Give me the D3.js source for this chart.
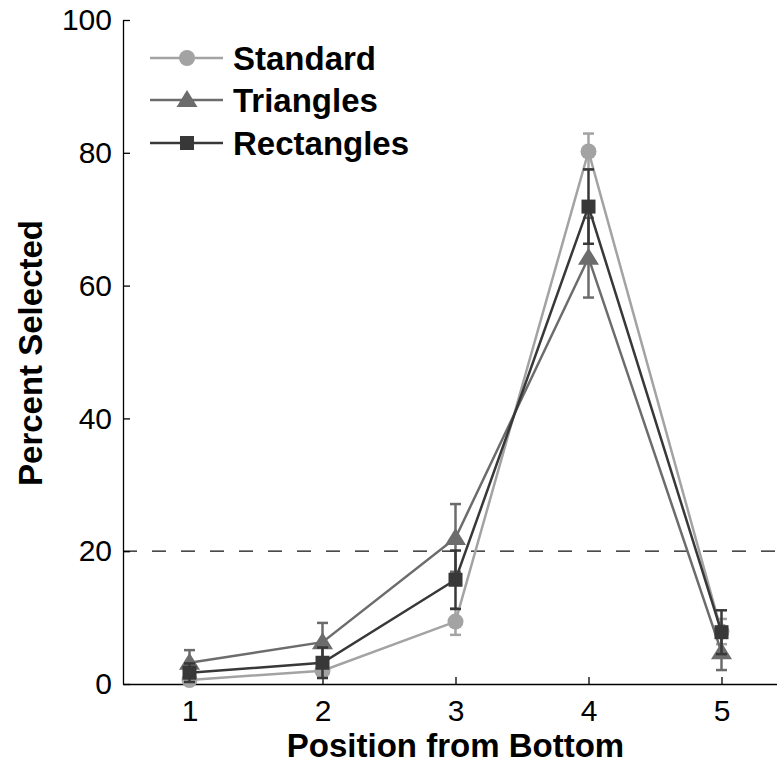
<!DOCTYPE html>
<html>
<head>
<meta charset="utf-8">
<script src="https://cdn.jsdelivr.net/npm/d3@7"></script>
<style>
  body { margin: 0; background: #fff; }
  svg { display: block; font-family: "Liberation Sans", Arial, sans-serif; }
</style>
</head>
<body>
<div id="chart"></div>
<script>
// positions 1..5 from the bottom
var positions = [1, 2, 3, 4, 5];
var seriesNames = ["Standard", "Triangles", "Rectangles"];
var standardVals = [0.6, 2.0, 9.4, 80.2, 7.9];
var standardErr = [0.5, 0.8, 2.0, 2.7, 1.9];
var triangleVals = [3.2, 6.3, 22.0, 64.2, 4.8];
var triangleErr = [1.9, 2.9, 5.1, 6.0, 2.7];
var rectangleVals = [1.7, 3.2, 15.7, 71.9, 7.8];
var rectangleErr = [1.4, 2.3, 4.4, 5.6, 3.3];
var yTicks = [0, 20, 40, 60, 80, 100];
var chanceLevel = 20;

var width = 777, height = 768;
var margin = {top: 20, left: 123, bottom: 84};

var colors = ["#a3a3a3", "#6c6c6c", "#383838"];
var shapes = ["circle", "triangle", "square"];

var svg = d3.select("#chart").append("svg")
  .attr("width", width)
  .attr("height", height);

var x = d3.scaleLinear().domain([0.5, 5.5]).range([margin.left, margin.left + 665]);
var y = d3.scaleLinear().domain([0, 100]).range([height - margin.bottom, margin.top]);

// chance line
svg.append("line")
  .attr("x1", x(0.5)).attr("x2", width)
  .attr("y1", y(chanceLevel)).attr("y2", y(chanceLevel))
  .style("stroke", "#111").style("stroke-width", 1.3)
  .style("stroke-dasharray", "14,15");

// axes
var xAxis = svg.append("g")
  .attr("transform", "translate(0," + y(0) + ")")
  .call(d3.axisBottom(x).tickValues(positions).tickFormat(d3.format("d")).tickSizeInner(-7).tickSizeOuter(0).tickPadding(16));

var yAxis = svg.append("g")
  .attr("transform", "translate(" + x(0.5) + ",0)")
  .call(d3.axisLeft(y).tickValues(yTicks).tickSizeInner(-7).tickSizeOuter(0).tickPadding(11));

[xAxis, yAxis].forEach(function (g) {
  g.select(".domain").style("stroke", "#000").style("stroke-width", 1.3);
  g.selectAll(".tick line").style("stroke", "#000").style("stroke-width", 1.3);
  g.selectAll(".tick text").style("font-size", "30px").style("fill", "#000")
    .style("font-family", "'Liberation Sans', Arial, sans-serif");
});

svg.append("text")
  .attr("x", x(3)).attr("y", 757)
  .attr("text-anchor", "middle")
  .style("font-size", "33px").style("font-weight", "bold")
  .text("Position from Bottom");

svg.append("text")
  .attr("transform", "translate(42," + 353 + ") rotate(-90)")
  .attr("text-anchor", "middle")
  .style("font-size", "33px").style("font-weight", "bold")
  .text("Percent Selected");

function drawMarker(g, shape, color) {
  if (shape === "circle") {
    g.append("circle").attr("r", 8).style("fill", color);
  } else if (shape === "triangle") {
    g.append("path").attr("d", "M0,-10L10.5,7L-10.5,7Z").style("fill", color);
  } else {
    g.append("rect").attr("x", -7).attr("y", -7).attr("width", 14).attr("height", 14).style("fill", color);
  }
}

var allVals = [standardVals, triangleVals, rectangleVals];
var allErr = [standardErr, triangleErr, rectangleErr];

var line = d3.line()
  .x(function (d) { return x(d.pos); })
  .y(function (d) { return y(d.value); });

allVals.forEach(function (vals, s) {
  var data = positions.map(function (p, i) {
    return {pos: p, value: vals[i], err: allErr[s][i]};
  });
  var g = svg.append("g");
  var color = colors[s];

  g.append("path")
    .datum(data)
    .attr("d", line)
    .style("fill", "none").style("stroke", color).style("stroke-width", 2.5);

  var bars = g.selectAll(".err").data(data).enter().append("g").attr("class", "err");
  bars.append("line")
    .attr("x1", function (d) { return x(d.pos); })
    .attr("x2", function (d) { return x(d.pos); })
    .attr("y1", function (d) { return y(d.value - d.err); })
    .attr("y2", function (d) { return y(d.value + d.err); })
    .style("stroke", color).style("stroke-width", 2.5);
  [-1, 1].forEach(function (sign) {
    bars.append("line")
      .attr("x1", function (d) { return x(d.pos) - 5.5; })
      .attr("x2", function (d) { return x(d.pos) + 5.5; })
      .attr("y1", function (d) { return y(d.value + sign * d.err); })
      .attr("y2", function (d) { return y(d.value + sign * d.err); })
      .style("stroke", color).style("stroke-width", 2.5);
  });

  g.selectAll(".mk").data(data).enter().append("g")
    .attr("class", "mk")
    .attr("transform", function (d) { return "translate(" + x(d.pos) + "," + y(d.value) + ")"; })
    .each(function () { drawMarker(d3.select(this), shapes[s], color); });
});

// legend
var legend = svg.append("g");
var legendY = [58, 100, 143];
seriesNames.forEach(function (name, s) {
  var row = legend.append("g").attr("transform", "translate(0," + legendY[s] + ")");
  row.append("line").attr("x1", 150).attr("x2", 223).attr("y1", 0).attr("y2", 0)
    .style("stroke", colors[s]).style("stroke-width", 2.5);
  var m = row.append("g").attr("transform", "translate(187,0)");
  drawMarker(m, shapes[s], colors[s]);
  row.append("text").attr("x", 233).attr("y", 12)
    .style("font-size", "33px").style("font-weight", "bold")
    .text(name);
});
</script>
</body>
</html>
